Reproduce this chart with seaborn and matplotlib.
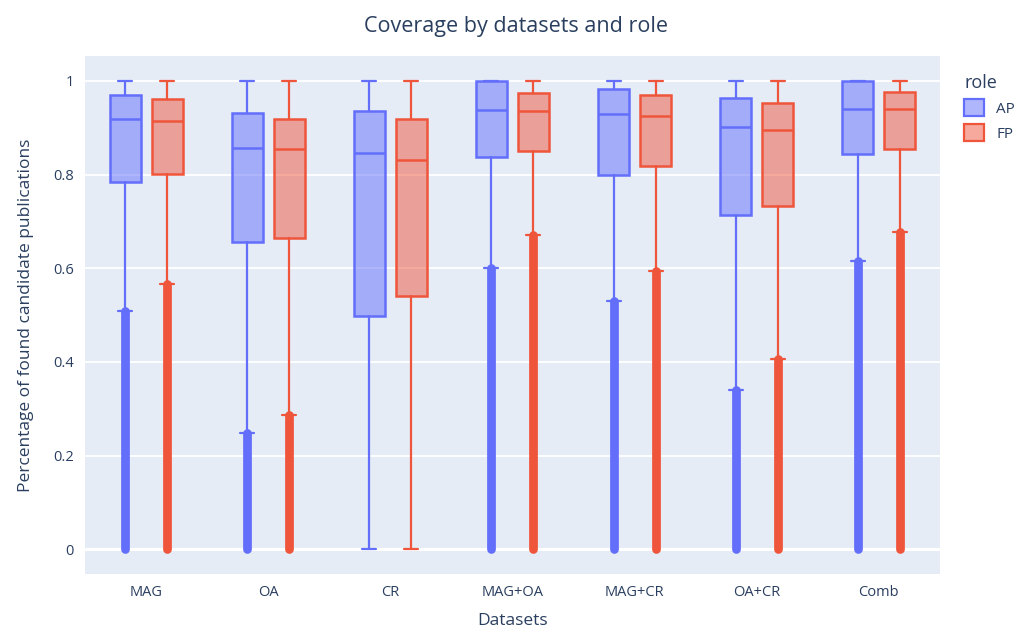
import numpy as np
import pandas as pd
import matplotlib
matplotlib.use('Agg')
import matplotlib.pyplot as plt
import seaborn as sns
from matplotlib.patches import Patch
from matplotlib.colors import to_rgba

# box summaries
datasets = ['MAG', 'OA', 'CR', 'MAG+OA', 'MAG+CR', 'OA+CR', 'Comb']
roles = ['AP', 'FP']

ap_q1 = [0.784, 0.656, 0.498, 0.838, 0.799, 0.714, 0.844]
ap_med = [0.919, 0.857, 0.846, 0.937, 0.929, 0.902, 0.940]
ap_q3 = [0.971, 0.932, 0.936, 1.0, 0.982, 0.963, 1.0]
ap_lo = [0.508, 0.249, 0.0, 0.600, 0.531, 0.341, 0.615]
ap_hi = [1.0, 1.0, 1.0, 1.0, 1.0, 1.0, 1.0]
ap_out = [True, True, False, True, True, True, True]

fp_q1 = [0.801, 0.665, 0.540, 0.851, 0.818, 0.732, 0.855]
fp_med = [0.915, 0.855, 0.832, 0.936, 0.926, 0.896, 0.940]
fp_q3 = [0.961, 0.919, 0.919, 0.975, 0.971, 0.952, 0.977]
fp_lo = [0.567, 0.287, 0.0, 0.670, 0.594, 0.406, 0.677]
fp_hi = [1.0, 1.0, 1.0, 1.0, 1.0, 1.0, 1.0]
fp_out = [True, True, False, True, True, True, True]

# outliers run from 0 up to the lower fence (dense band)
outlier_min = 0.0

colors = {'AP': '#636efa', 'FP': '#EF553B'}
text_col = '#2a3f5f'

sns.set_theme(style='darkgrid')
plt.rcParams['font.family'] = ['Open Sans', 'DejaVu Sans']

fig = plt.figure(figsize=(10.31, 6.3), dpi=100)
ax = fig.add_axes([0.0824, 0.0889, 0.8293, 0.8227])
ax.set_facecolor('#E5ECF6')

stats = {
    'AP': (ap_q1, ap_med, ap_q3, ap_lo, ap_hi, ap_out),
    'FP': (fp_q1, fp_med, fp_q3, fp_lo, fp_hi, fp_out),
}
offsets = {'AP': -0.172, 'FP': 0.172}

for role in roles:
    q1, med, q3, lo, hi, out = stats[role]
    col = colors[role]
    pos = np.arange(len(datasets)) + offsets[role]
    # outlier bands first so the boxes sit on top
    for p, l, o in zip(pos, lo, out):
        if o:
            ax.vlines(p, outlier_min, l, color=col, lw=6.3, zorder=2,
                      capstyle='round')
    bstats = [dict(q1=a, med=b, q3=c, whislo=d, whishi=e, fliers=[])
              for a, b, c, d, e in zip(q1, med, q3, lo, hi)]
    ax.bxp(bstats, positions=pos, widths=0.254, capwidths=0.115,
           patch_artist=True, showfliers=False, manage_ticks=False,
           boxprops=dict(facecolor=to_rgba(col, 0.5), edgecolor=col, lw=1.8),
           medianprops=dict(color=col, lw=1.8),
           whiskerprops=dict(color=col, lw=1.6),
           capprops=dict(color=col, lw=1.6), zorder=3)

ax.set_xlim(-0.5, len(datasets) - 0.5)
ax.set_ylim(-0.053, 1.054)
ax.set_xticks(range(len(datasets)))
ax.set_xticklabels(datasets)
ax.set_yticks([0, 0.2, 0.4, 0.6, 0.8, 1.0])
ax.set_yticklabels(['0', '0.2', '0.4', '0.6', '0.8', '1'])
ax.grid(axis='x', visible=False)
ax.grid(axis='y', color='white', lw=1.3)
ax.axhline(0, color='white', lw=2.2, zorder=1)
ax.tick_params(axis='both', length=0, labelsize=10.5, colors=text_col, pad=8)
for s in ax.spines.values():
    s.set_visible(False)

ax.set_xlabel('Datasets', fontsize=12.5, color=text_col, labelpad=9)
ax.set_ylabel('Percentage of found candidate publications', fontsize=12.5,
              color=text_col, labelpad=14)
fig.suptitle('Coverage by datasets and role', x=0.5, y=0.975, fontsize=15.5,
             color=text_col)

handles = [Patch(facecolor=to_rgba(colors[r], 0.5), edgecolor=colors[r], lw=1.6,
                 label=r) for r in roles]
leg = fig.legend(handles=handles, title='role', loc='upper left',
                 bbox_to_anchor=(0.922, 0.905), frameon=False, fontsize=11,
                 title_fontsize=13, handlelength=1.3, handleheight=1.3,
                 alignment='left', labelcolor=text_col)
leg.get_title().set_color(text_col)

fig.savefig('out.png', dpi=100)
